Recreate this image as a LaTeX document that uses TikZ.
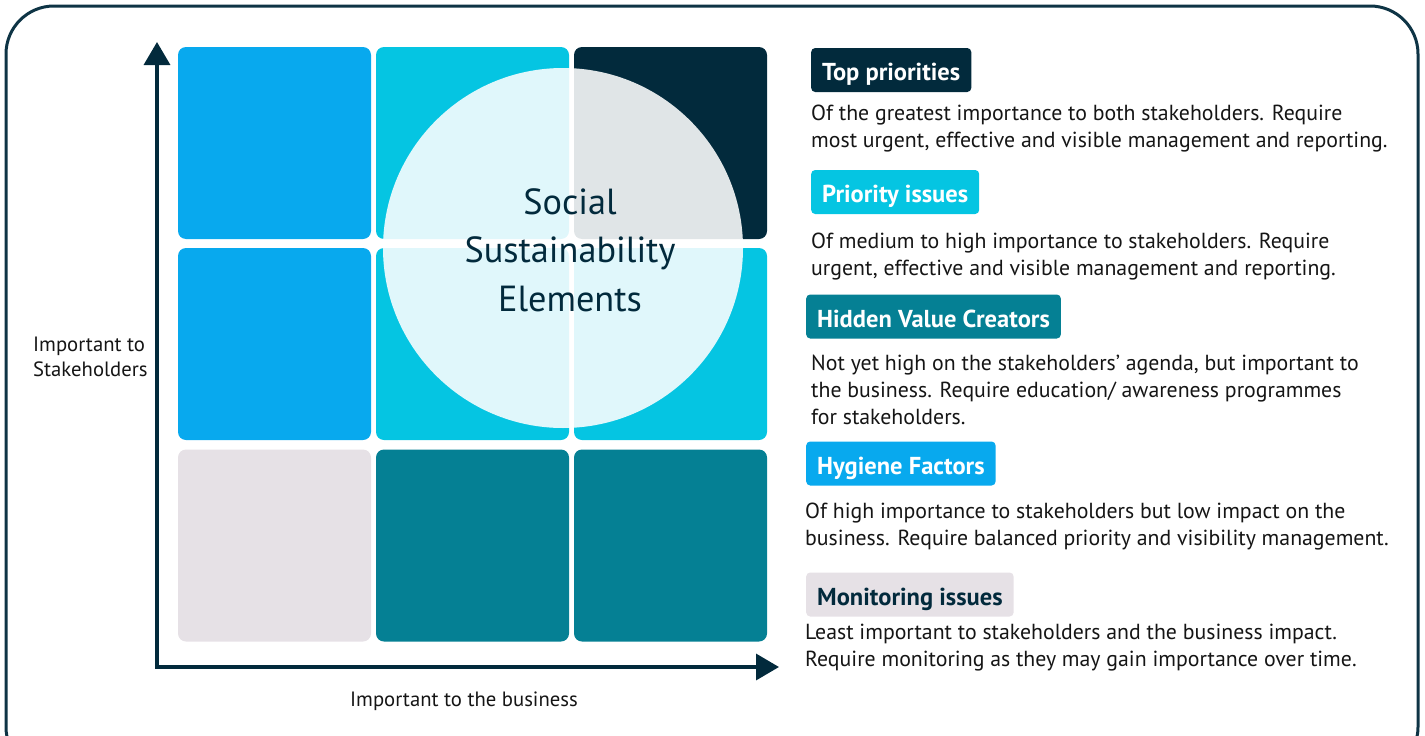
\documentclass[tikz,border=0pt]{standalone}
\usepackage{fontspec}
\setmainfont{PT Sans}
\usetikzlibrary{arrows.meta, positioning}
\definecolor{navy}{HTML}{022A3C}
\definecolor{framecol}{HTML}{0E3445}
\definecolor{skyblue}{HTML}{08A9EE}
\definecolor{aqua}{HTML}{05C5E2}
\definecolor{teal}{HTML}{058094}
\definecolor{mist}{HTML}{E6E1E6}
\definecolor{ink}{HTML}{151515}

\begin{document}
\begin{tikzpicture}[x=1pt, y=-1pt,
  tile/.style={minimum width=193pt, minimum height=192pt, rounded corners=8pt, inner sep=0pt},
  tag/.style={anchor=west, minimum height=44pt, inner xsep=11pt, text height=21pt, text depth=0pt,
    rounded corners=4pt, text=white, font=\fontsize{24.5}{28}\selectfont\bfseries},
  desc/.style={anchor=base west, align=left, inner sep=0pt, text=ink, font=\fontsize{21.8}{27}\selectfont},
  axislabel/.style={inner sep=0pt, text=ink, font=\fontsize{20.7}{25}\selectfont},
  axis/.style={line width=3.5pt, draw=navy, {Triangle[width=26pt, length=23pt]}-{Triangle[width=26pt, length=23pt]}}]
\useasboundingbox (0,0) rectangle (1425,736);

% frame
\draw[line width=3pt, framecol, rounded corners=48pt] (6,6) rectangle (1418,775);

% matrix tiles
\node[tile, fill=skyblue] (t11) at (274.5,143) {};
\node[tile, fill=aqua]    (t12) at (472.5,143) {};
\node[tile, fill=navy]    (t13) at (670.5,143) {};
\node[tile, fill=skyblue] (t21) at (274.5,344) {};
\node[tile, fill=aqua]    (t22) at (472.5,344) {};
\node[tile, fill=aqua]    (t23) at (670.5,344) {};
\node[tile, fill=mist]    (t31) at (274.5,545.5) {};
\node[tile, fill=teal]    (t32) at (472.5,545.5) {};
\node[tile, fill=teal]    (t33) at (670.5,545.5) {};

% circle on top
\fill[white, opacity=0.88] (563,248) circle (180);
\node[align=center, text=navy, font=\fontsize{36.3}{48.5}\selectfont] (core) at (570,250)
  {Social\\Sustainability\\Elements};

% axes
\coordinate (origin) at (157,667);
\coordinate (ytip) at (157,42);
\coordinate (xtip) at (779,667);
\draw[axis] (ytip) -- (origin) -- (xtip);
\node[axislabel, anchor=west, align=left] (ylabel) at (33,357)
  {Important to\\Stakeholders};
\node[axislabel] (xlabel) at (464,701) {Important to the business};

% legend (desc nodes sit on their last baseline)
\node[tag, fill=navy] (top) at (811,70) {Top priorities};
\node[desc] (topdesc) at (811,147)
  {Of the greatest importance to both stakeholders. Require\\most urgent, effective and visible management and reporting.};

\node[tag, fill=aqua] (prio) at (811,192) {Priority issues};
\node[desc] (priodesc) at (811,275)
  {Of medium to high importance to stakeholders. Require\\urgent, effective and visible management and reporting.};

\node[tag, fill=teal] (hidden) at (806,316.5) {Hidden Value Creators};
\node[desc] (hiddendesc) at (811,424)
  {Not yet high on the stakeholders’ agenda, but important to\\the business. Require education/ awareness programmes\\for stakeholders.};

\node[tag, fill=skyblue] (hyg) at (806,463.5) {Hygiene Factors};
\node[desc] (hygdesc) at (805,545)
  {Of high importance to stakeholders but low impact on the\\business. Require balanced priority and visibility management.};

\node[tag, fill=mist, text=navy] (mon) at (806,594.5) {Monitoring issues};
\node[desc] (mondesc) at (805,666)
  {Least important to stakeholders and the business impact.\\Require monitoring as they may gain importance over time.};
\end{tikzpicture}
\end{document}
